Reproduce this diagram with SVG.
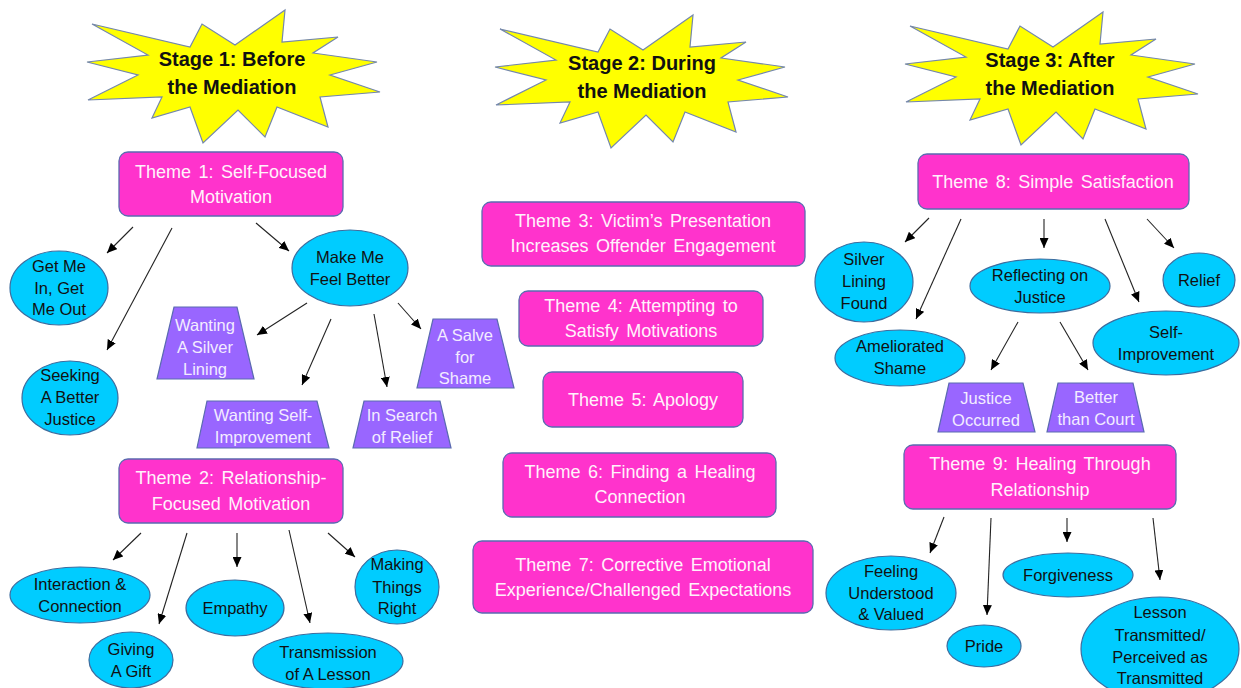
<svg xmlns="http://www.w3.org/2000/svg" width="1241" height="688" viewBox="0 0 1241 688">
<style>
.star{fill:#ffff00;stroke:#7487ad;stroke-width:1.2}
.st{font-family:"Liberation Sans",Arial,sans-serif;font-weight:bold;font-size:20px;fill:#111;text-anchor:middle}
.th{fill:#ff33cc;stroke:#5a6bb0;stroke-width:1.3}
.tt{font-family:"Liberation Sans",Arial,sans-serif;font-size:18px;fill:#fff2fb;text-anchor:middle;word-spacing:2.5px}
.el{fill:#00ccff;stroke:#3d6c9e;stroke-width:1.2}
.et{font-family:"Liberation Sans",Arial,sans-serif;font-size:16.5px;fill:#111;text-anchor:middle}
.tr{fill:#9966ff;stroke:#5a6bb0;stroke-width:1.2}
.pt{font-family:"Liberation Sans",Arial,sans-serif;font-size:16.5px;fill:#f3ecff;text-anchor:middle}
.cn line{stroke:#222;stroke-width:1.1;marker-end:url(#ah)}
</style>
<defs>
<marker id="ah" markerUnits="userSpaceOnUse" markerWidth="11" markerHeight="9" refX="10" refY="4.5" orient="auto">
<path d="M0,0 L10,4.5 L0,9 z" fill="#000"/>
</marker>
<path id="starshape" d="M92,24 L190,47 L202,24 L235,45 L285,10 L282,42 L338,37 L313,53 L377,62 L330,75 L380,92 L320,97 L328,127 L277,107 L265,137 L238,110 L203,143 L190,107 L152,118 L162,97 L88,100 L138,75 L87,62 L148,55 Z"/>
</defs>
<rect width="1241" height="688" fill="#ffffff"/>

<g id="stage1">
<use href="#starshape" class="star"/>
<text class="st" x="232" y="66">Stage 1: Before</text>
<text class="st" x="232" y="94">the Mediation</text>
</g>
<g id="stage2">
<use href="#starshape" class="star" x="408" y="5"/>
<text class="st" x="642" y="70">Stage 2: During</text>
<text class="st" x="642" y="98">the Mediation</text>
</g>
<g id="stage3">
<use href="#starshape" class="star" x="818" y="2"/>
<text class="st" x="1050" y="67">Stage 3: After</text>
<text class="st" x="1050" y="95">the Mediation</text>
</g>

<g class="cn" id="connectors">
<line x1="133" y1="227" x2="107" y2="253"/>
<line x1="172" y1="228" x2="107" y2="350"/>
<line x1="256" y1="223" x2="289" y2="251"/>
<line x1="307" y1="303" x2="257" y2="335"/>
<line x1="331" y1="319" x2="302" y2="385"/>
<line x1="374" y1="314" x2="387" y2="387"/>
<line x1="398" y1="303" x2="421" y2="329"/>
<line x1="141" y1="533" x2="113" y2="560"/>
<line x1="187" y1="533" x2="159" y2="624"/>
<line x1="237" y1="533" x2="237" y2="567"/>
<line x1="289" y1="530" x2="310" y2="623"/>
<line x1="328" y1="533" x2="355" y2="557"/>
<line x1="929" y1="218" x2="905" y2="242"/>
<line x1="961" y1="219" x2="916" y2="319"/>
<line x1="1044" y1="219" x2="1044" y2="248"/>
<line x1="1105" y1="219" x2="1139" y2="302"/>
<line x1="1147" y1="219" x2="1174" y2="248"/>
<line x1="1018" y1="322" x2="991" y2="370"/>
<line x1="1060" y1="322" x2="1088" y2="370"/>
<line x1="944" y1="517" x2="930" y2="553"/>
<line x1="991" y1="518" x2="987" y2="615"/>
<line x1="1067" y1="518" x2="1067" y2="542"/>
<line x1="1153" y1="518" x2="1160" y2="580"/>
</g>

<g id="theme1"><rect class="th" x="119" y="152" width="224" height="64" rx="9"/>
<text class="tt" x="231" y="178">Theme 1: Self-Focused</text><text class="tt" x="231" y="203">Motivation</text></g>
<g id="theme2"><rect class="th" x="119" y="459" width="224" height="64" rx="9"/>
<text class="tt" x="231" y="484">Theme 2: Relationship-</text><text class="tt" x="231" y="510">Focused Motivation</text></g>
<g id="theme3"><rect class="th" x="482" y="202" width="323" height="64" rx="9"/>
<text class="tt" x="643" y="227">Theme 3: Victim’s Presentation</text><text class="tt" x="643" y="252">Increases Offender Engagement</text></g>
<g id="theme4"><rect class="th" x="519" y="291" width="244" height="55" rx="9"/>
<text class="tt" x="641" y="312">Theme 4: Attempting to</text><text class="tt" x="641" y="337">Satisfy Motivations</text></g>
<g id="theme5"><rect class="th" x="543" y="372" width="200" height="55" rx="9"/>
<text class="tt" x="643" y="406">Theme 5: Apology</text></g>
<g id="theme6"><rect class="th" x="503" y="453" width="273" height="64" rx="9"/>
<text class="tt" x="640" y="478">Theme 6: Finding a Healing</text><text class="tt" x="640" y="503">Connection</text></g>
<g id="theme7"><rect class="th" x="473" y="541" width="340" height="72" rx="9"/>
<text class="tt" x="643" y="571">Theme 7: Corrective Emotional</text><text class="tt" x="643" y="596">Experience/Challenged Expectations</text></g>
<g id="theme8"><rect class="th" x="918" y="154" width="271" height="55" rx="9"/>
<text class="tt" x="1053" y="188">Theme 8: Simple Satisfaction</text></g>
<g id="theme9"><rect class="th" x="904" y="445" width="272" height="64" rx="9"/>
<text class="tt" x="1040" y="470">Theme 9: Healing Through</text><text class="tt" x="1040" y="496">Relationship</text></g>

<g id="get-me-in"><ellipse class="el" cx="59" cy="288" rx="49" ry="37"/>
<text class="et" x="59" y="272">Get Me</text><text class="et" x="59" y="294">In, Get</text><text class="et" x="59" y="315">Me Out</text></g>
<g id="seeking"><ellipse class="el" cx="70" cy="398" rx="48" ry="37"/>
<text class="et" x="70" y="381">Seeking</text><text class="et" x="70" y="403">A Better</text><text class="et" x="70" y="425">Justice</text></g>
<g id="make-me"><ellipse class="el" cx="350" cy="268" rx="58" ry="38"/>
<text class="et" x="350" y="263">Make Me</text><text class="et" x="350" y="285">Feel Better</text></g>

<g id="silver-lining"><polygon class="tr" points="174,307 237,307 254,379 157,379"/>
<text class="pt" x="205" y="331">Wanting</text><text class="pt" x="205" y="353">A Silver</text><text class="pt" x="205" y="375">Lining</text></g>
<g id="self-improvement1"><polygon class="tr" points="207,401 317,401 329,448 197,448"/>
<text class="pt" x="263" y="421">Wanting Self-</text><text class="pt" x="263" y="443">Improvement</text></g>
<g id="relief1"><polygon class="tr" points="364,401 440,401 451,448 353,448"/>
<text class="pt" x="402" y="421">In Search</text><text class="pt" x="402" y="443">of Relief</text></g>
<g id="salve"><polygon class="tr" points="433,319 497,319 514,388 417,388"/>
<text class="pt" x="465" y="341">A Salve</text><text class="pt" x="465" y="363">for</text><text class="pt" x="465" y="384">Shame</text></g>

<g id="interaction"><ellipse class="el" cx="80" cy="595" rx="70" ry="28"/>
<text class="et" x="80" y="590">Interaction &amp;</text><text class="et" x="80" y="612">Connection</text></g>
<g id="giving"><ellipse class="el" cx="131" cy="660" rx="42" ry="28"/>
<text class="et" x="131" y="655">Giving</text><text class="et" x="131" y="677">A Gift</text></g>
<g id="empathy"><ellipse class="el" cx="235" cy="608" rx="49" ry="28"/>
<text class="et" x="235" y="614">Empathy</text></g>
<g id="transmission"><ellipse class="el" cx="328" cy="661" rx="75" ry="28"/>
<text class="et" x="328" y="658">Transmission</text><text class="et" x="328" y="680">of A Lesson</text></g>
<g id="making-right"><ellipse class="el" cx="397" cy="587" rx="42" ry="37"/>
<text class="et" x="397" y="570">Making</text><text class="et" x="397" y="593">Things</text><text class="et" x="397" y="614">Right</text></g>

<g id="silver-found"><ellipse class="el" cx="864" cy="282" rx="49" ry="40"/>
<text class="et" x="864" y="265">Silver</text><text class="et" x="864" y="287">Lining</text><text class="et" x="864" y="309">Found</text></g>
<g id="ameliorated"><ellipse class="el" cx="900" cy="358" rx="65" ry="28"/>
<text class="et" x="900" y="352">Ameliorated</text><text class="et" x="900" y="374">Shame</text></g>
<g id="reflecting"><ellipse class="el" cx="1040" cy="286" rx="70" ry="27"/>
<text class="et" x="1040" y="281">Reflecting on</text><text class="et" x="1040" y="303">Justice</text></g>
<g id="relief3"><ellipse class="el" cx="1199" cy="280" rx="36" ry="27"/>
<text class="et" x="1199" y="286">Relief</text></g>
<g id="self-improvement3"><ellipse class="el" cx="1166" cy="343" rx="73" ry="32"/>
<text class="et" x="1166" y="338">Self-</text><text class="et" x="1166" y="360">Improvement</text></g>
<g id="justice-occurred"><polygon class="tr" points="949,383 1023,383 1035,432 938,432"/>
<text class="pt" x="986" y="404">Justice</text><text class="pt" x="986" y="426">Occurred</text></g>
<g id="better-court"><polygon class="tr" points="1058,383 1133,383 1144,432 1047,432"/>
<text class="pt" x="1096" y="403">Better</text><text class="pt" x="1096" y="425">than Court</text></g>

<g id="feeling"><ellipse class="el" cx="891" cy="593" rx="65" ry="37"/>
<text class="et" x="891" y="577">Feeling</text><text class="et" x="891" y="599">Understood</text><text class="et" x="891" y="620">&amp; Valued</text></g>
<g id="pride"><ellipse class="el" cx="984" cy="646" rx="37" ry="21"/>
<text class="et" x="984" y="652">Pride</text></g>
<g id="forgiveness"><ellipse class="el" cx="1068" cy="575" rx="65" ry="22"/>
<text class="et" x="1068" y="581">Forgiveness</text></g>
<g id="lesson"><ellipse class="el" cx="1160" cy="649" rx="79" ry="52"/>
<text class="et" x="1160" y="618">Lesson</text><text class="et" x="1160" y="641">Transmitted/</text><text class="et" x="1160" y="663">Perceived as</text><text class="et" x="1160" y="684">Transmitted</text></g>
</svg>
